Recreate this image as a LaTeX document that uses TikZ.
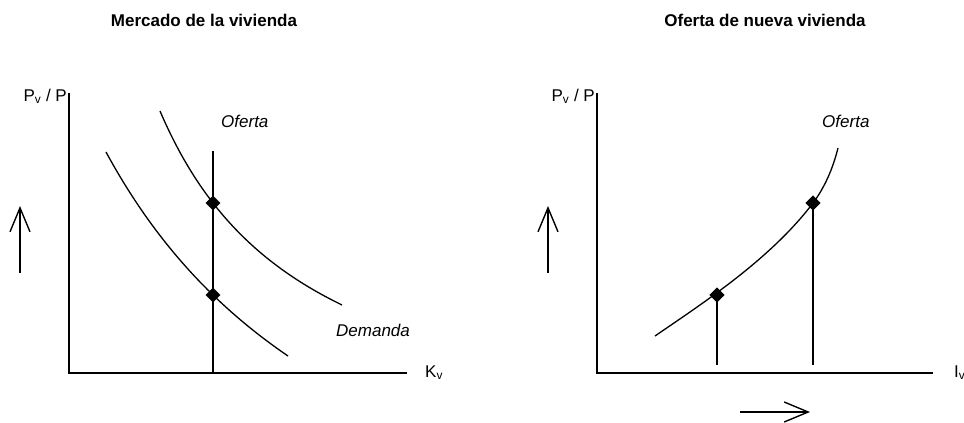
\documentclass[tikz,border=0pt]{standalone}
\usepackage{fontspec}
\setmainfont{Liberation Sans}
\usetikzlibrary{arrows.meta}
\begin{document}
\begin{tikzpicture}[x=1pt,y=-1pt,
  lbl/.style={font=\fontsize{17}{20}\selectfont, inner sep=0pt},
  ilbl/.style={font=\fontsize{17}{20}\selectfont\itshape, inner sep=0pt},
  ttl/.style={font=\fontsize{17}{20}\selectfont\bfseries, inner sep=0pt},
  axisline/.style={line width=1.3pt},
  crv/.style={line width=1.3pt},
  vline/.style={line width=2.2pt},
  dia/.style={fill=black, draw=black, rectangle, rotate=45, minimum size=10pt, inner sep=0pt},
  bigarrow/.style={line width=1.4pt, -{Straight Barb[length=24pt,width=20pt,line width=1.4pt]}}]
\useasboundingbox (0,0) rectangle (964,423);
% titles
\node[ttl, anchor=base] (t1) at (204,27) {Mercado de la vivienda};
\node[ttl, anchor=base] (t2) at (765,27) {Oferta de nueva vivienda};
% left axes
\coordinate (ly) at (69,93);
\coordinate (lo) at (69,373);
\coordinate (lx) at (407,373);
\draw[axisline] (ly) -- (lo) -- (lx);
\node[lbl, anchor=base east] (lyl) at (67,101) {P\textsubscript{v} / P};
\node[lbl, anchor=base west] (lxl) at (425,377) {K\textsubscript{v}};
% left curves
\draw[crv] plot[domain=160:342, samples=80] (\x, {467.2-542.13/((\x-7.8)/100)});
\draw[crv] plot[domain=106:288, samples=80] (\x, {673.2-1475/((\x+177)/100)});
% vertical supply
\coordinate (sv1) at (213,151);
\coordinate (sv2) at (213,373);
\draw[vline] (sv1) -- (sv2);
\node[dia] (d1) at (213,203) {};
\node[dia] (d2) at (213,295) {};
\node[ilbl, anchor=base west] (of1) at (221,127) {Oferta};
\node[ilbl, anchor=base west] (dem) at (336,336) {Demanda};
% left arrow
\coordinate (a1s) at (20,273);
\coordinate (a1e) at (20,206);
\draw[bigarrow] (a1s) -- (a1e);
% right axes
\coordinate (ry) at (597,93);
\coordinate (ro) at (597,373);
\coordinate (rx) at (933,373);
\draw[axisline] (ry) -- (ro) -- (rx);
\node[lbl, anchor=base east] (ryl) at (595,101) {P\textsubscript{v} / P};
\node[lbl, anchor=base west] (rxl) at (954,377) {I\textsubscript{v}};
% right curve
\coordinate (c0) at (655,336);
\coordinate (c2) at (838,148);
\node[dia] (d3) at (717,295) {};
\node[dia] (d4) at (813,203) {};
\draw[crv] (c0) .. controls (700,305) and (770,260) .. (d4.center)
  .. controls (825,187) and (833,168) .. (c2);
\node[dia] at (717,295) {};
\node[dia] at (813,203) {};
\coordinate (b3) at (717,365);
\coordinate (b4) at (813,365);
\draw[vline] (d3.center) -- (b3);
\draw[vline] (d4.center) -- (b4);
\node[ilbl, anchor=base west] (of2) at (822,127) {Oferta};
% right arrows
\coordinate (a2s) at (548,273);
\coordinate (a2e) at (548,206);
\draw[bigarrow] (a2s) -- (a2e);
\coordinate (a3s) at (740,412);
\coordinate (a3e) at (810,412);
\draw[bigarrow] (a3s) -- (a3e);
\end{tikzpicture}
\end{document}
